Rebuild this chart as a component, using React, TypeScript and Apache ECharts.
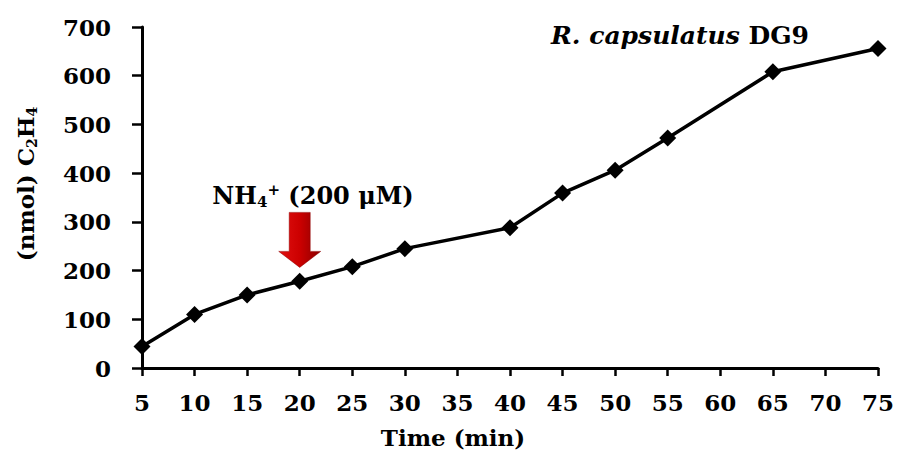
import React, { useEffect, useRef } from "react";
import * as echarts from "echarts";

const timeMin = [5, 10, 15, 20, 25, 30, 40, 45, 50, 55, 65, 75];
const ethylene = [44, 110, 150, 178, 208, 245, 288, 359, 406, 472, 608, 656];
const arrowAt = [20, 263];

const FONT = "'DejaVu Serif', 'Liberation Serif', serif";

export default function App() {
  const ref = useRef<HTMLDivElement>(null);
  useEffect(() => {
    if (!ref.current) return;
    const chart = echarts.init(ref.current, undefined, { renderer: "svg" });
    const data = timeMin.map((t, i) => [t, ethylene[i]]);
    chart.setOption({
      animation: false,
      backgroundColor: "#ffffff",
      grid: { left: 142, right: 20, top: 27, bottom: 84 },
      xAxis: {
        type: "value",
        min: 5,
        max: 75,
        interval: 5,
        axisLine: { show: true, lineStyle: { color: "#000", width: 3 } },
        axisTick: { show: true, length: 8, lineStyle: { color: "#000", width: 2.5 } },
        axisLabel: { color: "#000", fontFamily: FONT, fontWeight: "bold", fontSize: 23, margin: 23 },
        splitLine: { show: false },
      },
      yAxis: {
        type: "value",
        min: 0,
        max: 700,
        interval: 100,
        axisLine: { show: true, lineStyle: { color: "#000", width: 3 } },
        axisTick: { show: true, length: 10, lineStyle: { color: "#000", width: 2.5 } },
        axisLabel: { color: "#000", fontFamily: FONT, fontWeight: "bold", fontSize: 23, margin: 31 },
        splitLine: { show: false },
      },
      graphic: [
        {
          type: "text",
          x: 25,
          y: 184,
          rotation: Math.PI / 2,
          style: {
            text: "{m|(nmol) C}{s|2}{m|H}{s|4}",
            align: "center",
            verticalAlign: "middle",
            rich: {
              m: { fontFamily: FONT, fontWeight: "bold", fontSize: 23, fill: "#000", lineHeight: 28, verticalAlign: "middle" },
              s: { fontFamily: FONT, fontWeight: "bold", fontSize: 14, fill: "#000", lineHeight: 28, verticalAlign: "bottom", padding: [9, 0, 0, 0] },
            },
          },
        },
        {
          type: "text",
          x: 453,
          y: 437,
          style: {
            text: "Time (min)",
            align: "center",
            verticalAlign: "middle",
            fontFamily: FONT,
            fontWeight: "bold",
            fontSize: 23,
            fill: "#000",
          },
        },
        {
          type: "text",
          x: 680,
          y: 35,
          style: {
            text: "{i|R. capsulatus}{b| DG9}",
            align: "center",
            verticalAlign: "middle",
            rich: {
              i: { fontFamily: FONT, fontWeight: "bold", fontStyle: "italic", fontSize: 25, fill: "#000" },
              b: { fontFamily: FONT, fontWeight: "bold", fontSize: 25, fill: "#000" },
            },
          },
        },
        {
          type: "text",
          x: 313,
          y: 195,
          style: {
            text: "{m|NH}{s|4}{p|+}{m| (200 μM)}",
            align: "center",
            verticalAlign: "middle",
            rich: {
              m: { fontFamily: FONT, fontWeight: "bold", fontSize: 24, fill: "#000", lineHeight: 30 },
              s: { fontFamily: FONT, fontWeight: "bold", fontSize: 15, fill: "#000", lineHeight: 30, padding: [13, 0, 0, 0] },
              p: { fontFamily: FONT, fontWeight: "bold", fontSize: 15, fill: "#000", lineHeight: 30, padding: [0, 0, 11, 0] },
            },
          },
        },
      ],
      series: [
        {
          type: "line",
          data,
          symbol: "diamond",
          symbolSize: 17,
          lineStyle: { color: "#000", width: 3.5 },
          itemStyle: { color: "#000" },
          markPoint: {
            silent: true,
            symbol: "path://M10,0 L30,0 L30,39 L40,39 L20,55 L0,39 L10,39 Z",
            symbolSize: [42, 55],
            symbolKeepAspect: false,
            label: { show: false },
            itemStyle: {
              color: new echarts.graphic.LinearGradient(0, 0, 1, 0, [
                { offset: 0, color: "#e01010" },
                { offset: 0.5, color: "#cc0000" },
                { offset: 1, color: "#8a0000" },
              ]),
              borderColor: "#900000",
              borderWidth: 0.5,
            },
            data: [{ coord: arrowAt }],
          },
        },
      ],
    });
    return () => chart.dispose();
  }, []);
  return <div ref={ref} style={{ width: 898, height: 452, position: "absolute", left: 0, top: 0 }} />;
}
